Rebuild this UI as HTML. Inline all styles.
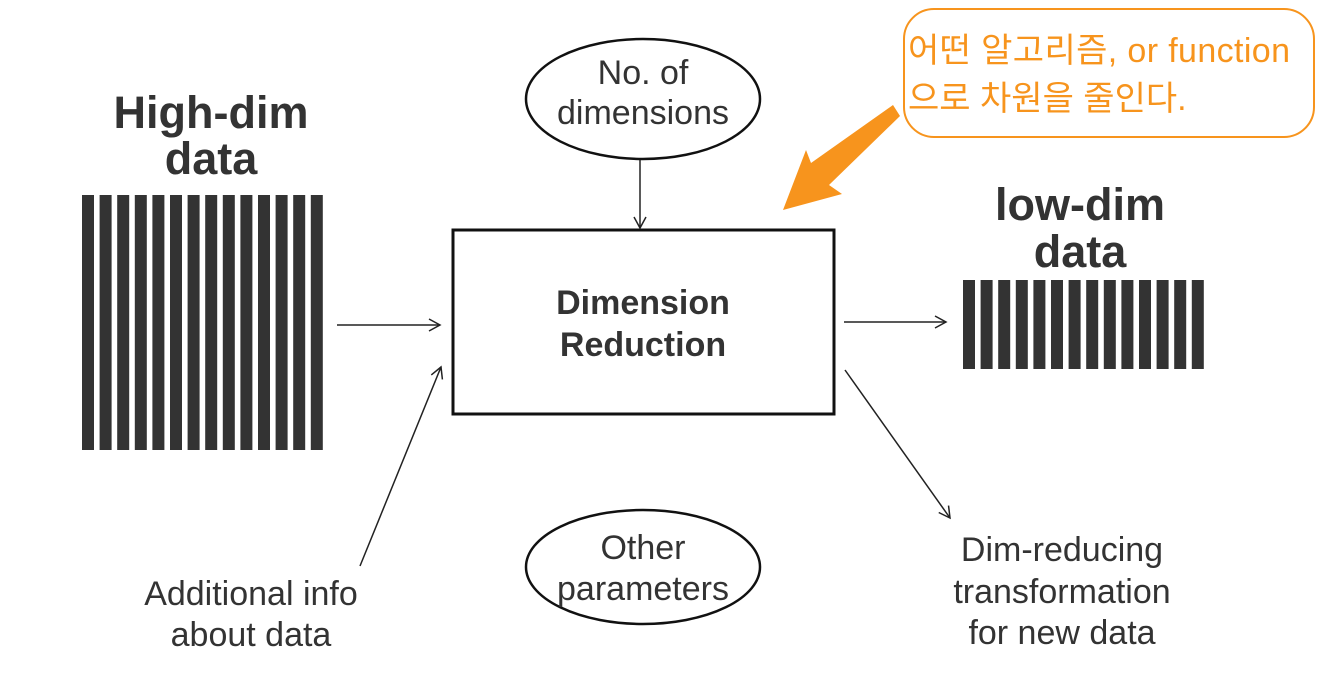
<!DOCTYPE html>
<html><head><meta charset="utf-8"><style>
html,body{margin:0;padding:0;background:#fff;}
svg{display:block;}
</style></head><body>
<svg width="1326" height="678" viewBox="0 0 1326 678" xmlns="http://www.w3.org/2000/svg" font-family="Liberation Sans, Noto Sans CJK KR, sans-serif">
<defs>
<marker id="a" markerWidth="14" markerHeight="14" refX="12" refY="7" orient="auto" markerUnits="userSpaceOnUse">
<path d="M1,1 L12,7 L1,13" fill="none" stroke="#222" stroke-width="1.5"/>
</marker>
</defs>
<text x="211" y="128" font-size="45" font-weight="bold" fill="#333" text-anchor="middle">High-dim</text>
<text x="211" y="174" font-size="45" font-weight="bold" fill="#333" text-anchor="middle">data</text>
<g fill="#333">
<rect x="82" y="195" width="12" height="255"/><rect x="99.6" y="195" width="12" height="255"/><rect x="117.2" y="195" width="12" height="255"/><rect x="134.8" y="195" width="12" height="255"/><rect x="152.4" y="195" width="12" height="255"/><rect x="170" y="195" width="12" height="255"/><rect x="187.6" y="195" width="12" height="255"/><rect x="205.2" y="195" width="12" height="255"/><rect x="222.8" y="195" width="12" height="255"/><rect x="240.4" y="195" width="12" height="255"/><rect x="258" y="195" width="12" height="255"/><rect x="275.6" y="195" width="12" height="255"/><rect x="293.2" y="195" width="12" height="255"/><rect x="310.8" y="195" width="12" height="255"/>
</g>
<text x="1080" y="220" font-size="45" font-weight="bold" fill="#333" text-anchor="middle">low-dim</text>
<text x="1080" y="267" font-size="45" font-weight="bold" fill="#333" text-anchor="middle">data</text>
<g fill="#333">
<rect x="963" y="280" width="12" height="89"/><rect x="980.6" y="280" width="12" height="89"/><rect x="998.2" y="280" width="12" height="89"/><rect x="1015.8" y="280" width="12" height="89"/><rect x="1033.4" y="280" width="12" height="89"/><rect x="1051" y="280" width="12" height="89"/><rect x="1068.6" y="280" width="12" height="89"/><rect x="1086.2" y="280" width="12" height="89"/><rect x="1103.8" y="280" width="12" height="89"/><rect x="1121.4" y="280" width="12" height="89"/><rect x="1139" y="280" width="12" height="89"/><rect x="1156.6" y="280" width="12" height="89"/><rect x="1174.2" y="280" width="12" height="89"/><rect x="1191.8" y="280" width="12" height="89"/>
</g>
<rect x="453" y="230" width="381" height="184" fill="#fff" stroke="#111" stroke-width="3"/>
<text x="643" y="314" font-size="34" font-weight="bold" fill="#333" text-anchor="middle">Dimension</text>
<text x="643" y="356" font-size="34" font-weight="bold" fill="#333" text-anchor="middle">Reduction</text>
<ellipse cx="643" cy="99" rx="117" ry="60" fill="#fff" stroke="#111" stroke-width="2.5"/>
<text x="643" y="84" font-size="34" fill="#333" text-anchor="middle">No. of</text>
<text x="643" y="124" font-size="34" fill="#333" text-anchor="middle">dimensions</text>
<ellipse cx="643" cy="567" rx="117" ry="57" fill="#fff" stroke="#111" stroke-width="2.5"/>
<text x="643" y="559" font-size="34" fill="#333" text-anchor="middle">Other</text>
<text x="643" y="600" font-size="34" fill="#333" text-anchor="middle">parameters</text>
<g stroke="#222" stroke-width="1.5" fill="none">
<line x1="640" y1="160" x2="640" y2="228" marker-end="url(#a)"/>
<line x1="337" y1="325" x2="440" y2="325" marker-end="url(#a)"/>
<line x1="844" y1="322" x2="946" y2="322" marker-end="url(#a)"/>
<line x1="360" y1="566" x2="441" y2="367" marker-end="url(#a)"/>
<line x1="845" y1="370" x2="950" y2="518" marker-end="url(#a)"/>
</g>
<text x="251" y="605" font-size="34" fill="#333" text-anchor="middle">Additional info</text>
<text x="251" y="646" font-size="34" fill="#333" text-anchor="middle">about data</text>
<text x="1062" y="561" font-size="34" fill="#333" text-anchor="middle">Dim-reducing</text>
<text x="1062" y="603" font-size="34" fill="#333" text-anchor="middle">transformation</text>
<text x="1062" y="644" font-size="34" fill="#333" text-anchor="middle">for new data</text>
<rect x="904" y="9" width="410" height="128" rx="30" ry="30" fill="#fff" stroke="#f7941d" stroke-width="2"/>
<text x="908" y="62" font-size="34" fill="#f7941d" textLength="382">어떤 알고리즘, or function</text>
<text x="908" y="110" font-size="34" fill="#f7941d">으로 차원을 줄인다.</text>
<polygon points="783,210 842,194 829,185 900,116 893,105 811,163 806,150" fill="#f7941d"/>
</svg>
</body></html>
